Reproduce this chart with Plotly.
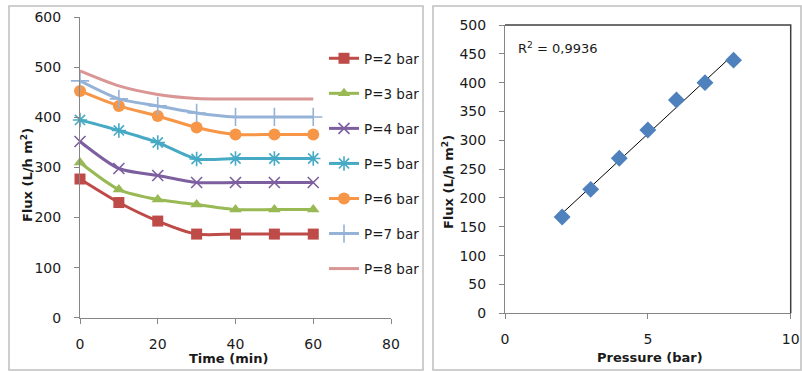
import numpy as np
import plotly.graph_objects as go

W, H = 802, 372

# ---------------- data ----------------
time_min = [0, 10, 20, 30, 40, 50, 60]
series_names = ["P=2 bar", "P=3 bar", "P=4 bar", "P=5 bar", "P=6 bar", "P=7 bar", "P=8 bar"]
flux_p2 = [277, 230, 193, 167, 167, 167, 167]
flux_p3 = [310, 256, 236, 226, 216, 216, 216]
flux_p4 = [352, 298, 284, 270, 270, 270, 270]
flux_p5 = [395, 374, 350, 317, 318, 318, 318]
flux_p6 = [453, 423, 403, 380, 366, 366, 366]
flux_p7 = [473, 437, 423, 409, 401, 401, 401]
flux_p8 = [493, 463, 446, 438, 437, 437, 437]
flux_series = [flux_p2, flux_p3, flux_p4, flux_p5, flux_p6, flux_p7, flux_p8]

pressure_bar = [2, 3, 4, 5, 6, 7, 8]
final_flux = [167, 215, 269, 318, 370, 400, 439]
r2_label = "R<sup>2</sup> = 0,9936"

# ---------------- styles ----------------
colors = ["#BE4B48", "#98B954", "#7D5FA0", "#46AAC5", "#F79646", "#95B3D7", "#DA9694"]
symbols = ["square", "triangle-up", "x-thin", "asterisk", "circle", "cross-thin", None]
sizes = [11, 11, 11, 12, 12, 13, 0]

def px_x(px):
    return px / W

def px_y(py):
    return 1 - py / H

FONT = "DejaVu Sans"
TXT = "#1a1a1a"
GRAY = "#868686"

fig = go.Figure()

for i, (name, ys) in enumerate(zip(series_names, flux_series)):
    sym = symbols[i]
    if sym is None:
        marker = dict(size=0, opacity=0)
        mode = "lines"
    else:
        thin = sym in ("x-thin", "cross-thin", "asterisk")
        marker = dict(symbol=sym, size=sizes[i], color=colors[i],
                      line=dict(color=colors[i], width=1.6 if thin else 0))
        mode = "lines+markers"
    fig.add_trace(go.Scatter(
        x=time_min, y=ys, name=name, mode=mode,
        line=dict(color=colors[i], width=3, shape="spline", smoothing=0.7),
        marker=marker, legendgroup=f"g{i}", showlegend=True,
        xaxis="x", yaxis="y", cliponaxis=False,
    ))

# right chart: scatter + linear trendline
slope, intercept = np.polyfit(pressure_bar, final_flux, 1)
trend_x = [min(pressure_bar), max(pressure_bar)]
trend_y = [slope * v + intercept for v in trend_x]
fig.add_trace(go.Scatter(
    x=trend_x, y=trend_y, mode="lines", line=dict(color="#000000", width=1),
    showlegend=False, xaxis="x2", yaxis="y2",
))
fig.add_trace(go.Scatter(
    x=pressure_bar, y=final_flux, mode="markers",
    marker=dict(symbol="diamond", size=13, color="#4F81BD"),
    showlegend=False, xaxis="x2", yaxis="y2", cliponaxis=False,
))

axis_common = dict(
    showgrid=False, zeroline=False, showline=True, linecolor=GRAY, linewidth=1,
    ticks="outside", ticklen=5, tickcolor=GRAY, tickwidth=1,
    tickfont=dict(family=FONT, size=14, color=TXT),
    fixedrange=True, automargin=False,
)

fig.update_layout(
    width=W, height=H, autosize=False,
    margin=dict(l=0, r=0, t=0, b=0, pad=0, autoexpand=False),
    paper_bgcolor="white", plot_bgcolor="white",
    xaxis=dict(domain=[px_x(80), px_x(391)], range=[0, 80], dtick=20, anchor="y",
               ticklabelstandoff=8, **axis_common),
    yaxis=dict(domain=[px_y(317.7), px_y(17.3)], range=[0, 600], dtick=100, anchor="x",
               ticklabelstandoff=10, **axis_common),
    xaxis2=dict(domain=[px_x(505), px_x(790.7)], range=[0, 10], dtick=5, anchor="y2",
                ticklabelstandoff=8, **axis_common),
    yaxis2=dict(domain=[px_y(313.3), px_y(25)], range=[0, 500], dtick=50, anchor="x2",
                ticklabelstandoff=10, **axis_common),
    legend=dict(
        x=px_x(324), y=px_y(43), xanchor="left", yanchor="top",
        font=dict(family=FONT, size=13.5, color=TXT),
        tracegroupgap=14.5, bgcolor="rgba(0,0,0,0)", borderwidth=0,
        itemwidth=30,
    ),
    showlegend=True,
)

# panel borders
fig.add_shape(type="rect", xref="paper", yref="paper",
              x0=px_x(9), x1=px_x(423), y0=px_y(370), y1=px_y(6),
              line=dict(color="#BFBFBF", width=1.5), layer="below")
fig.add_shape(type="rect", xref="paper", yref="paper",
              x0=px_x(433), x1=px_x(801), y0=px_y(370), y1=px_y(6),
              line=dict(color="#BFBFBF", width=1.5), layer="below")
# plot-area frame (top and right) of the right chart
fig.add_shape(type="path", xref="x2 domain", yref="y2 domain",
              path="M 0,1 L 1,1 L 1,0",
              line=dict(color="#404040", width=1.5))

# axis titles and R2 label
ann = [
    dict(text="<b>Flux (L/h m<sup>2</sup>)</b>", x=px_x(27), y=px_y(175), textangle=-90),
    dict(text="<b>Flux (L/h m<sup>2</sup>)</b>", x=px_x(448), y=px_y(182), textangle=-90),
    dict(text="<b>Time (min)</b>", x=px_x(229), y=px_y(358)),
    dict(text="<b>Pressure (bar)</b>", x=px_x(650), y=px_y(357)),
]
for a in ann:
    fig.add_annotation(xref="paper", yref="paper", showarrow=False,
                       xanchor="center", yanchor="middle",
                       font=dict(family=FONT, size=13, color=TXT), **a)
fig.add_annotation(xref="paper", yref="paper", showarrow=False,
                   x=px_x(516), y=px_y(48), xanchor="left", yanchor="middle",
                   text=r2_label, font=dict(family=FONT, size=13, color=TXT))

fig.write_html("out.html")
